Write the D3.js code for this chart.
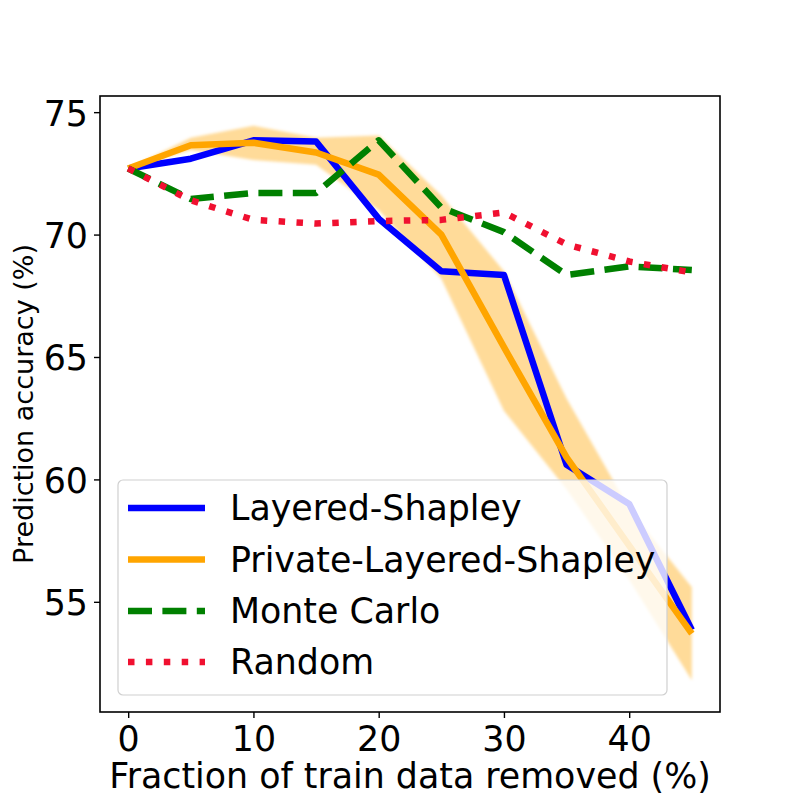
<!DOCTYPE html>
<html>
<head>
<meta charset="utf-8">
<script src="https://cdn.jsdelivr.net/npm/d3@7"></script>
<style>
  html, body { margin: 0; padding: 0; background: #fff; }
  svg { display: block; font-family: "DejaVu Sans", sans-serif; }
</style>
</head>
<body>
<svg id="chart" width="800" height="800"></svg>
<script>
// ---- data ----
const fractions = [0, 5, 10, 15, 20, 25, 30, 35, 40, 45];
const layeredShapley = [72.7, 73.1, 73.85, 73.8, 70.65, 68.5, 68.35, 60.6, 59.0, 53.85];
const privateLayered = [72.7, 73.65, 73.75, 73.35, 72.45, 70.0, 65.4, 60.9, 57.3, 53.7];
const privateLow = [72.7, 73.45, 73.05, 72.85, 71.0, 68.2, 62.8, 59.6, 55.9, 51.8];
const privateHigh = [72.7, 73.95, 74.45, 73.95, 74.05, 71.6, 68.5, 63.3, 58.8, 55.6];
const monteCarlo = [72.7, 71.45, 71.7, 71.7, 73.85, 71.1, 70.1, 68.35, 68.7, 68.55];
const randomSel = [72.7, 71.4, 70.6, 70.45, 70.55, 70.6, 70.9, 69.6, 68.9, 68.45];
const xTicks = [0, 10, 20, 30, 40];
const yTicks = [55, 60, 65, 70, 75];
const seriesNames = ["Layered-Shapley", "Private-Layered-Shapley", "Monte Carlo", "Random"];

// ---- layout ----
const svg = d3.select("#chart");
const L = 100, R = 720, T = 96, B = 712;
const FS = 34.8;
const x = d3.scaleLinear().domain([-2.25, 47.25]).range([L, R]);
const y = d3.scaleLinear().domain([50.5, 75.66]).range([B, T]);

const LW = 6.5;
const styles = [
  { color: "#0000ff", dash: null },
  { color: "#ffa500", dash: null },
  { color: "#008000", dash: "24,10.4" },
  { color: "#f01030", dash: "6.5,11.4" }
];

const defs = svg.append("defs");
defs.append("filter").attr("id", "soft")
  .append("feGaussianBlur").attr("stdDeviation", 1.5);
defs.append("clipPath").attr("id", "plotclip")
  .append("rect").attr("x", L).attr("y", T).attr("width", R - L).attr("height", B - T);

const plot = svg.append("g").attr("clip-path", "url(#plotclip)");

// band
const area = d3.area()
  .x((d, i) => x(fractions[i]))
  .y0((d, i) => y(privateLow[i]))
  .y1((d, i) => y(privateHigh[i]));
plot.append("path")
  .datum(fractions)
  .attr("d", area)
  .attr("fill", "#ffa500")
  .attr("fill-opacity", 0.4)
  .attr("filter", "url(#soft)");

const line = d3.line().x((d, i) => x(fractions[i])).y(d => y(d));
const seriesData = [layeredShapley, privateLayered, monteCarlo, randomSel];
seriesData.forEach((vals, k) => {
  const p = plot.append("path")
    .datum(vals)
    .attr("d", line)
    .attr("fill", "none")
    .attr("stroke", styles[k].color)
    .attr("stroke-width", LW)
    .attr("stroke-linejoin", "round");
  if (styles[k].dash) p.attr("stroke-dasharray", styles[k].dash).attr("stroke-linecap", "butt");
});

// axes
const yAxis = svg.append("g")
  .attr("transform", `translate(${L},0)`)
  .call(d3.axisLeft(y).tickValues(yTicks).tickSize(6).tickPadding(6).tickFormat(d3.format("d")));
yAxis.select(".domain").remove();
yAxis.selectAll("text").attr("font-size", FS).attr("dy", "0.37em").attr("fill", "#000")
  .attr("font-family", "DejaVu Sans");
yAxis.selectAll("line").attr("stroke", "#000").attr("stroke-width", 1.4);

const xAxis = svg.append("g")
  .attr("transform", `translate(0,${B})`)
  .call(d3.axisBottom(x).tickValues(xTicks).tickSize(6).tickPadding(8).tickFormat(d3.format("d")));
xAxis.select(".domain").remove();
xAxis.selectAll("text").attr("font-size", FS).attr("fill", "#000")
  .attr("font-family", "DejaVu Sans");
xAxis.selectAll("line").attr("stroke", "#000").attr("stroke-width", 1.4);

// frame
svg.append("rect")
  .attr("x", L).attr("y", T).attr("width", R - L).attr("height", B - T)
  .attr("fill", "none").attr("stroke", "#000").attr("stroke-width", 1.6);

// axis labels
svg.append("text")
  .attr("x", (L + R) / 2).attr("y", 788)
  .attr("text-anchor", "middle")
  .attr("font-size", FS)
  .attr("fill", "#000")
  .text("Fraction of train data removed (%)");

svg.append("text")
  .attr("transform", `translate(33,${(T + B) / 2}) rotate(-90)`)
  .attr("text-anchor", "middle")
  .attr("font-size", 27)
  .attr("fill", "#000")
  .text("Prediction accuracy (%)");

// legend
const leg = svg.append("g");
leg.append("rect")
  .attr("x", 118).attr("y", 480).attr("width", 549).attr("height", 215)
  .attr("rx", 5).attr("ry", 5)
  .attr("fill", "#fff").attr("fill-opacity", 0.8)
  .attr("stroke", "#d0d0d0").attr("stroke-width", 1.2);
const rowY = [508, 559.5, 611, 662];
seriesNames.forEach((name, k) => {
  const h = leg.append("line")
    .attr("x1", 128).attr("x2", 205)
    .attr("y1", rowY[k]).attr("y2", rowY[k])
    .attr("stroke", styles[k].color)
    .attr("stroke-width", LW);
  if (styles[k].dash) h.attr("stroke-dasharray", styles[k].dash);
  leg.append("text")
    .attr("x", 230).attr("y", rowY[k] + 12)
    .attr("font-size", FS)
    .attr("fill", "#000")
    .text(name);
});
</script>
</body>
</html>
